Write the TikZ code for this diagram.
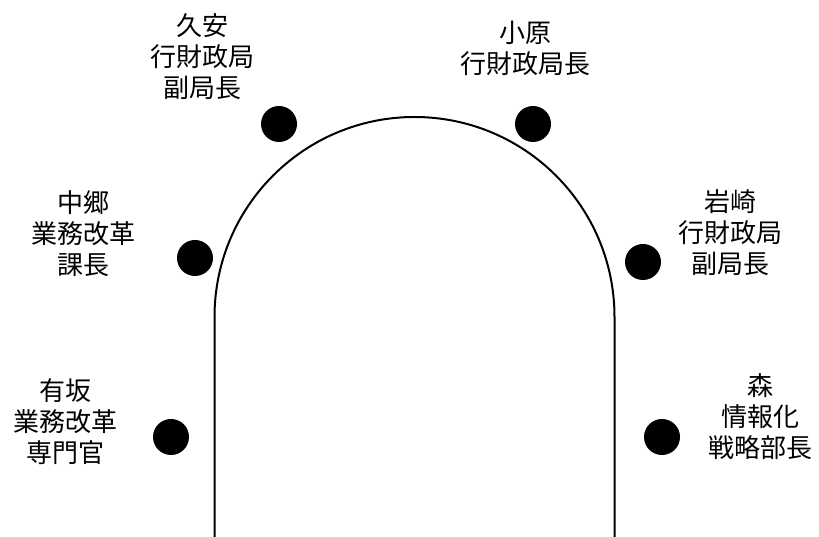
\documentclass[tikz,border=0pt]{standalone}
\usepackage{fontspec}
\newfontfamily\cjk{Noto Sans CJK JP}
\begin{document}
\begin{tikzpicture}[x=1pt,y=1pt,
  dot/.style={circle,fill=black,minimum size=36pt,inner sep=0pt},
  lbl/.style={align=center,inner sep=0pt,font=\cjk\fontsize{26}{31}\selectfont},
  archline/.style={line width=2pt,black}]
\useasboundingbox (0,0) rectangle (819,537);
% arch
\draw[archline] (214.5,0) -- (214.5,220) arc (180:0:200) -- (614.5,0);
% dots
\node[dot] (d1) at (279,413) {};
\node[dot] (d2) at (533,413) {};
\node[dot] (d3) at (195,279) {};
\node[dot] (d4) at (643,275) {};
\node[dot] (d5) at (171,100) {};
\node[dot] (d6) at (662,100) {};
% labels
\node[lbl] (l1) at (202,480) {久安\\行財政局\\副局長};
\node[lbl] (l2) at (525,489) {小原\\行財政局長};
\node[lbl] (l3) at (83,303) {中郷\\業務改革\\課長};
\node[lbl] (l4) at (730,304) {岩崎\\行財政局\\副局長};
\node[lbl] (l5) at (65,115) {有坂\\業務改革\\専門官};
\node[lbl] (l6) at (760,120) {森\\情報化\\戦略部長};
\end{tikzpicture}
\end{document}
